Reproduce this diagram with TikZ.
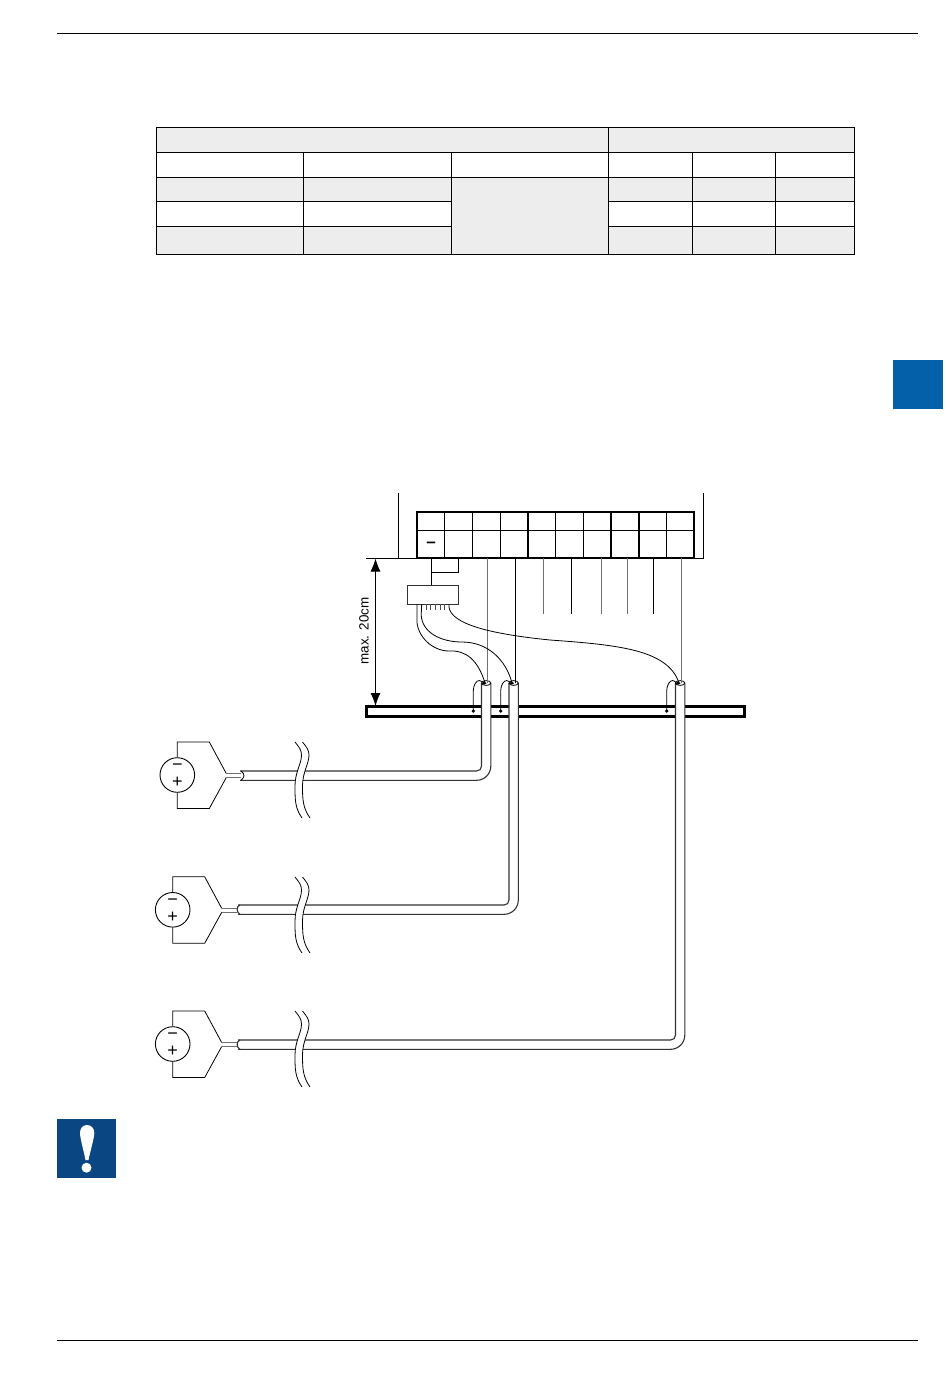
\documentclass[tikz,border=0pt]{standalone}
\usepackage{fontspec}
\setmainfont{Liberation Sans}
\usetikzlibrary{arrows.meta}
\definecolor{cellgray}{HTML}{EDEDED}
\definecolor{tabblue}{HTML}{0560AA}
\definecolor{iconblue}{HTML}{0A4682}
\definecolor{wiregray}{HTML}{707070}
\tikzset{
  tabline/.style={line width=1pt,draw=black},
  thin wire/.style={line width=0.8pt,draw=black},
  gray wire/.style={line width=1pt,draw=wiregray},
  cableline/.style={line width=1.1pt,draw=black!80},
  src/.style={circle,draw=black,line width=0.9pt,minimum size=34.6pt,inner sep=0pt,fill=white},
  sign/.style={inner sep=0pt,font=\fontsize{18}{18}\selectfont},
}
% #1 = left x, #2 = top y of the run, #3 = left x of riser
\newcommand{\cableat}[3]{%
  \fill[white] (#3,683) -- (#3+9.3,683) -- (#3+9.3,#2-5) .. controls (#3+9.3,#2+3) and (#3+3,#2+9.3) .. (#3-5,#2+9.3) -- (#1,#2+9.3) -- (#1,#2) -- (#3-5,#2) .. controls (#3-2,#2) and (#3,#2-2) .. (#3,#2-5) -- cycle;
  \draw[cableline] (#3,683) -- (#3,#2-5) .. controls (#3,#2-2) and (#3-2,#2) .. (#3-5,#2) -- (#1,#2);
  \draw[cableline] (#3+9.3,683) -- (#3+9.3,#2-5) .. controls (#3+9.3,#2+3) and (#3+3,#2+9.3) .. (#3-5,#2+9.3) -- (#1,#2+9.3);
  \draw[thin wire,fill=white] (#3+4.65,683) ellipse[x radius=4.65,y radius=2.4];
  \draw[thin wire,fill=black] (#3+2.6,683.2) ellipse[x radius=1.8,y radius=1];
}
% a break mark: #1 = left x at top, #2 = top y
\newcommand{\breakat}[2]{%
  \fill[white] (#1,#2) .. controls (#1+4,#2+5) and (#1+6.5,#2+8) .. (#1+6.5,#2+13)
     .. controls (#1+6.5,#2+22) and (#1,#2+30) .. (#1,#2+44)
     .. controls (#1,#2+58) and (#1,#2+66) .. (#1+7,#2+76)
     -- (#1+15,#2+76)
     .. controls (#1+8,#2+66) and (#1+7.5,#2+58) .. (#1+7.5,#2+44)
     .. controls (#1+7.5,#2+30) and (#1+14,#2+22) .. (#1+14,#2+13)
     .. controls (#1+14,#2+8) and (#1+11.5,#2+5) .. (#1+7.5,#2) -- cycle;
  \draw[line width=0.8pt] (#1,#2) .. controls (#1+4,#2+5) and (#1+6.5,#2+8) .. (#1+6.5,#2+13)
     .. controls (#1+6.5,#2+22) and (#1,#2+30) .. (#1,#2+44)
     .. controls (#1,#2+58) and (#1,#2+66) .. (#1+7,#2+76);
  \draw[line width=0.8pt] (#1+7.5,#2) .. controls (#1+11.5,#2+5) and (#1+14,#2+8) .. (#1+14,#2+13)
     .. controls (#1+14,#2+22) and (#1+7.5,#2+30) .. (#1+7.5,#2+44)
     .. controls (#1+7.5,#2+58) and (#1+8,#2+66) .. (#1+15,#2+76);
}
% #1 name, #2 centre x, #3 centre y, #4 x where the wires end
\newcommand{\sourceat}[4]{%
  \node[src] (#1) at (#2,#3) {};
  \draw[thin wire] (#1.north) -- (#2,#3-33) -- (#2+32,#3-33) -- (#2+49,#3-1.5);
  \draw[thin wire] (#1.south) -- (#2,#3+33.5) -- (#2+32,#3+33.5) -- (#2+49,#3+2.5);
  \draw[gray wire] (#2+49,#3-1.5) -- (#4,#3-1.5);
  \draw[gray wire] (#2+49,#3+2.5) -- (#4,#3+2.5);
  \node[sign] at (#2,#3-7.5) {−};
  \node[sign] at (#2,#3+7.5) {+};
}
\begin{document}
\begin{tikzpicture}[x=1pt,y=-1pt]
\useasboundingbox (0,0) rectangle (950,1378);
\fill[white] (0,0) rectangle (950,1378);
% page furniture
\coordinate (ruleTL) at (57,33.5); \coordinate (ruleTR) at (918,33.5);
\coordinate (ruleBL) at (57,1340); \coordinate (ruleBR) at (918,1340);
\draw[line width=0.9pt] (ruleTL) -- (ruleTR);
\draw[line width=0.9pt] (ruleBL) -- (ruleBR);
\fill[tabblue] (893,360) rectangle (943,409);
% table
\fill[cellgray] (156.5,127.5) rectangle (854.5,152.5);
\fill[cellgray] (156.5,177.5) rectangle (451.5,201.5);
\fill[cellgray] (156.5,226.5) rectangle (451.5,254.5);
\fill[cellgray] (451.5,177.5) rectangle (608.5,254.5);
\fill[cellgray] (608.5,177.5) rectangle (854.5,201.5);
\fill[cellgray] (608.5,226.5) rectangle (854.5,254.5);
\draw[tabline] (156.5,127.5) rectangle (854.5,254.5);
\draw[tabline] (156.5,152.5) -- (854.5,152.5);
\draw[tabline] (156.5,177.5) -- (854.5,177.5);
\draw[tabline] (156.5,201.5) -- (451.5,201.5) (608.5,201.5) -- (854.5,201.5);
\draw[tabline] (156.5,226.5) -- (451.5,226.5) (608.5,226.5) -- (854.5,226.5);
\draw[tabline] (608.5,127.5) -- (608.5,254.5);
\draw[tabline] (303.5,152.5) -- (303.5,254.5);
\draw[tabline] (451.5,152.5) -- (451.5,254.5);
\draw[tabline] (692.5,152.5) -- (692.5,254.5);
\draw[tabline] (775.5,152.5) -- (775.5,254.5);
% housing and terminal block
\draw[line width=0.8pt] (398.5,493) -- (398.5,558.5);
\draw[line width=0.8pt] (703.5,493) -- (703.5,558.5);
\coordinate (dimL) at (366,558.5);
\coordinate (dimR) at (704,558.5);
\draw[line width=0.8pt] (dimL) -- (dimR);
\draw[line width=2pt,fill=white] (417,512) rectangle (694,558);
\foreach \x in {444.5,472.5,500.5,528,555.5,583.5,611,639,666.5}
  \draw[line width=1.6pt] (\x,512) -- (\x,558);
\draw[line width=0.8pt] (417,530) -- (694,530);
\node[inner sep=0pt,font=\fontsize{17}{17}\selectfont\bfseries] (minusT) at (431,544.5) {–};
% bar
\draw[line width=2.4pt,fill=white] (366.5,706.3) rectangle (744.5,716.3);
% dimension
\coordinate (dimTop) at (375.5,558.5);
\coordinate (dimBot) at (375.5,706);
\draw[line width=0.9pt,{Latex[length=13pt,width=10pt]}-{Latex[length=13pt,width=10pt]}] (dimTop) -- (dimBot);
\node[rotate=90,inner sep=0pt,font=\fontsize{13.4}{13.4}\selectfont] (dimText) at (364,631) {max. 20cm};
% module
\draw[thin wire,line width=1pt] (431,558) -- (431,585.7);
\draw[thin wire,line width=1pt] (458.5,558) -- (458.5,572) -- (431,572);
\node[draw=black!80,line width=0.9pt,fill=white,minimum width=51pt,minimum height=18.6pt,inner sep=0pt] (module) at (432.8,595) {};
\foreach \x in {426,430.7,435.3,440,444.7}
  \draw[line width=0.7pt,black!70] (\x,604.3) -- (\x,609.5);
% shield tails
\foreach \x in {473.3,500.7,666.7}{
  \draw[thin wire] (\x,711) -- (\x,691) .. controls (\x,685) and (\x+3,680.5) .. (\x+6,680.5) .. controls (\x+8,680.5) and (\x+9,682) .. (\x+10.5,684);
  \fill (\x,711) circle[radius=1.8];
}
% cables
\cableat{240}{771}{481.5}
\cableat{238}{905}{509}
\cableat{238}{1040}{675.5}
% cable ends
\draw[line width=0.8pt] (241,771) .. controls (245,774) and (245,777) .. (241,780.3);
\draw[cableline] (240,905) .. controls (236,906) and (236.5,913) .. (240,914.3);
\draw[cableline] (240,1040) .. controls (236,1041) and (236.5,1048) .. (240,1049.3);
% vertical conductors
\draw[gray wire] (487.3,558) -- (487.3,683);
\draw[thin wire] (515.3,558) -- (515.3,683);
\draw[gray wire] (681.3,558) -- (681.3,683);
\draw[gray wire] (543.3,558) -- (543.3,614);
\draw[thin wire] (571.3,558) -- (571.3,614);
\draw[gray wire] (601.3,558) -- (601.3,614);
\draw[gray wire] (627,558) -- (627,614);
\draw[thin wire] (653.3,558) -- (653.3,614);
% module wires
\coordinate (c1) at (485,683); \coordinate (c2) at (512,683); \coordinate (c3) at (679,683);
\draw[thin wire] (416.9,604.3) -- (416.9,620) .. controls (416.9,636) and (432,651) .. (449,651) .. controls (466,650) and (478,660) .. (c1);
\draw[thin wire] (421.7,604.3) -- (421.2,615) .. controls (422,632) and (440,642) .. (462,642) .. controls (488,642) and (506,660) .. (c2);
\draw[thin wire] (449,604.3) -- (449,607) .. controls (451,624) and (490,634) .. (550,640) .. controls (620,645) and (668,650) .. (c3);
% sources
\sourceat{s1}{177.3}{775}{241}
\sourceat{s2}{172.7}{909.8}{237}
\sourceat{s3}{172.7}{1044}{237}
\breakat{295}{742}
\breakat{295}{877}
\breakat{295}{1011}
% caution icon
\fill[iconblue] (57,1119) rectangle (116,1178);
\fill[white] (80,1133) .. controls (80,1128) and (83,1125) .. (87,1125) .. controls (91,1125) and (94.3,1128) .. (94.3,1133) .. controls (94.3,1138) and (90,1152) .. (88.5,1160) -- (85.5,1160) .. controls (84,1152) and (80,1138) .. (80,1133) -- cycle;
\fill[white] (86.5,1167.7) circle[radius=5];
\end{tikzpicture}
\end{document}
